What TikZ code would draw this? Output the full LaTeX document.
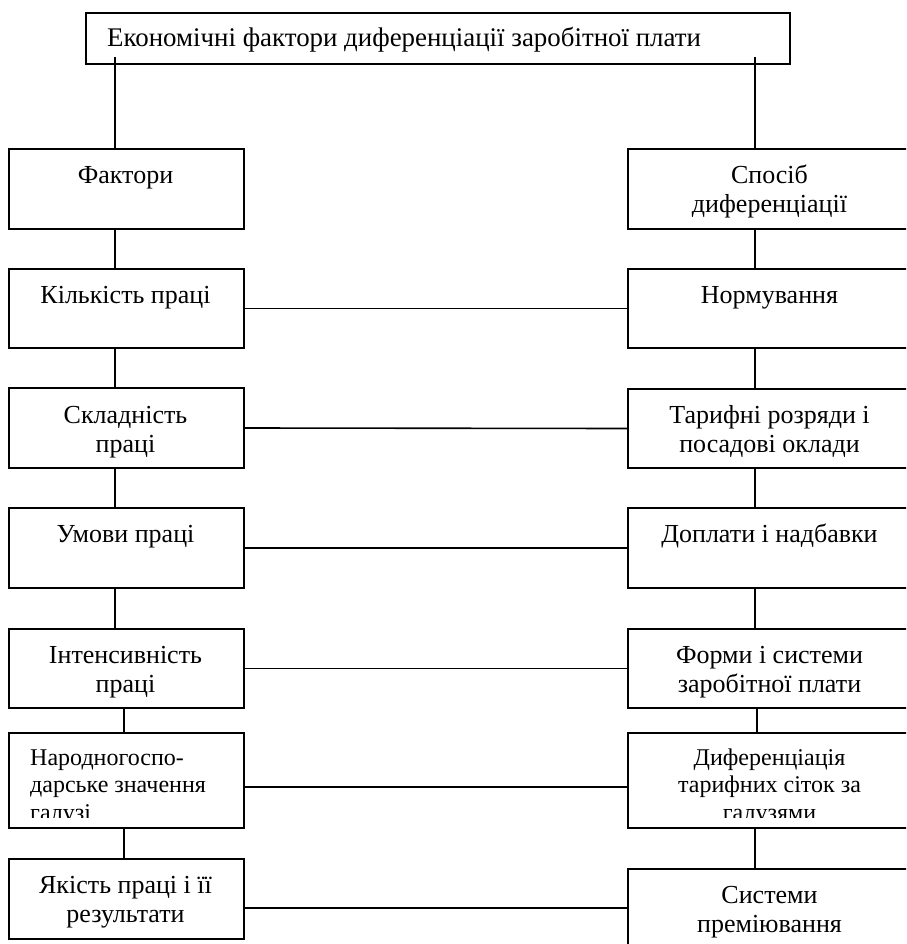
\documentclass[tikz,border=0pt]{standalone}
\usepackage{fontspec}
\setmainfont{Liberation Serif}
\usetikzlibrary{calc}
\begin{document}
\begin{tikzpicture}[x=1pt,y=-1pt,
  box/.style={draw, line width=2pt, inner sep=0pt, anchor=north west, minimum height=80pt},
  lbox/.style={box, minimum width=235pt},
  rbox/.style={box, minimum width=285pt},
  txt/.style={inner sep=0pt, anchor=base, align=center, font=\fontsize{26}{29}\selectfont},
  stxt/.style={txt, font=\fontsize{24}{27.5}\selectfont},
  con/.style={line width=1.6pt}]
\clip (0,0) rectangle (906,944);
% top
\node[box, minimum width=704pt, minimum height=51pt] (top) at (85,12) {};
\node[txt, anchor=base west, font=\fontsize{26.9}{30}\selectfont] (topt) at (107,47) {Економічні фактори диференціації заробітної плати};
% left column
\node[lbox] (f1) at (8,148) {};
\node[lbox, minimum height=79pt] (f2) at (8,268) {};
\node[lbox] (f3) at (8,387) {};
\node[lbox] (f4) at (8,507) {};
\node[lbox, minimum height=79pt] (f5) at (8,628) {};
\node[lbox, minimum height=95pt] (f6) at (8,732) {};
\node[lbox] (f7) at (8,858) {};
\node[txt] (f1t) at (125.5,183) {Фактори};
\node[txt] (f2t) at (125.5,303) {Кількість праці};
\node[txt] (f3t) at (125.5,452) {Складність\\праці};
\node[txt] (f4t) at (125.5,542) {Умови праці};
\node[txt] (f5t) at (125.5,692) {Інтенсивність\\праці};
\node[txt] (f7t) at (125.5,922) {Якість праці і її\\результати};
% right column
\node[rbox] (s1) at (627,148) {};
\node[rbox, minimum height=79pt] (s2) at (627,268) {};
\node[rbox, minimum height=79pt] (s3) at (627,388) {};
\node[rbox] (s4) at (627,507) {};
\node[rbox, minimum height=79pt] (s5) at (627,628) {};
\node[rbox, minimum height=95pt] (s6) at (627,732) {};
\node[rbox, minimum height=90pt] (s7) at (627,868) {};
\node[txt] (s1t) at (769.5,212) {Спосіб\\диференціації};
\node[txt] (s2t) at (769.5,303) {Нормування};
\node[txt] (s3t) at (769.5,452) {Тарифні розряди і\\посадові оклади};
\node[txt] (s4t) at (769.5,542) {Доплати і надбавки};
\node[txt] (s5t) at (769.5,692) {Форми і системи\\заробітної плати};
\node[txt] (s7t) at (769.5,932) {Системи\\преміювання};
% clipped three-line texts
\coordinate (cy) at (0,817);
\begin{scope}
\clip (f6.north west) rectangle (f6.east |- cy);
\node[stxt, anchor=base west, align=left] (f6t) at (30,820) {Народногоспо-\\дарське значення\\галузі};
\end{scope}
\begin{scope}
\clip (s6.north west) rectangle (s6.east |- cy);
\node[stxt] (s6t) at (769.5,820) {Диференціація\\тарифних сіток за\\галузями};
\end{scope}
% connectors
\coordinate (xl) at (115,0);
\coordinate (xl2) at (124,0);
\coordinate (xr) at (755,0);
\coordinate (xr2) at (757,0);
\coordinate (tl) at (115,57);
\coordinate (tr) at (755,57);
\draw[con] (tl) -- (tl |- f1.north);
\draw[con] (tr) -- (tr |- s1.north);
\draw[con] (f1.south -| xl) -- (f2.north -| xl);
\draw[con] (f2.south -| xl) -- (f3.north -| xl);
\draw[con] (f3.south -| xl) -- (f4.north -| xl);
\draw[con] (f4.south -| xl) -- (f5.north -| xl);
\draw[con] (f5.south -| xl2) -- (f6.north -| xl2);
\draw[con] (f6.south -| xl2) -- (f7.north -| xl2);
\draw[con] (s1.south -| xr) -- (s2.north -| xr);
\draw[con] (s2.south -| xr) -- (s3.north -| xr);
\draw[con] (s3.south -| xr) -- (s4.north -| xr);
\draw[con] (s4.south -| xr) -- (s5.north -| xr);
\draw[con] (s5.south -| xr2) -- (s6.north -| xr2);
\draw[con] (s6.south -| xr) -- (s7.north -| xr);
\coordinate (hy6) at (0,787);
\coordinate (hy7) at (0,908);
\draw[con] (f2.east) -- (s2.west);
\draw[con] (f3.east) -- (s3.west);
\draw[con] (f4.east) -- (s4.west);
\draw[con] (f5.east) -- (s5.west);
\draw[con] (f6.east |- hy6) -- (s6.west |- hy6);
\draw[con] (f7.east |- hy7) -- (s7.west |- hy7);
\end{tikzpicture}
\end{document}
